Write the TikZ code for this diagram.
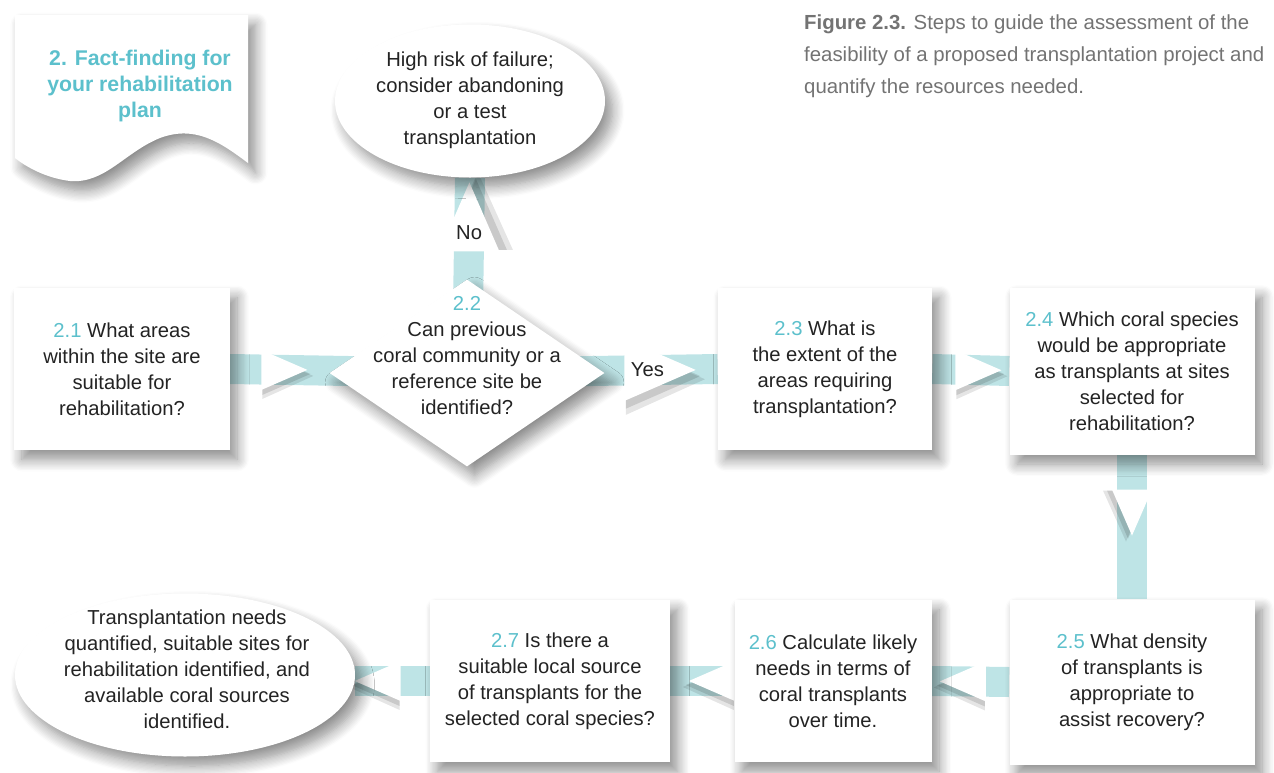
\documentclass[tikz,border=0pt]{standalone}
\usepackage{fontspec}
\setmainfont{Liberation Sans}
\usetikzlibrary{shapes.geometric,shadows.blur,positioning}
\definecolor{reefteal}{RGB}{92,192,204}
\definecolor{barteal}{RGB}{190,228,230}
\definecolor{inkgray}{RGB}{35,35,35}
\definecolor{capgray}{RGB}{115,115,115}
\newcommand{\stepno}[1]{\textcolor{reefteal}{#1}}
\pgfdeclarelayer{background}
\pgfsetlayers{background,main}
\tikzset{%
    softshadow/.style={%
        blur shadow={shadow xshift=1.5mm,shadow yshift=-1.9mm,shadow blur radius=2.4mm,
          shadow blur steps=10,shadow opacity=45}
    },
    flowtri/.pic={%
      \fill[black,opacity=.10] (29,6) -- (-22,29) -- (-22,-16) -- cycle;
      \fill[black,opacity=.12] (26,4) -- (-22,25) -- (-22,-18) -- cycle;
      \fill[white] (23,0) -- (-23,20) -- (-23,-20) -- cycle;}
}

\begin{document}
\begin{tikzpicture}[x=0.2mm,y=-0.2mm,
  every node/.style={font=\fontsize{11.5}{14.8}\selectfont,text=inkgray,align=center},
  step box/.style={fill=white,softshadow,minimum width=#1,minimum height=32.4mm,inner sep=2pt},
  end node/.style={ellipse,fill=white,softshadow,inner sep=0pt},
  decision node/.style={diamond,fill=white,softshadow,inner sep=0pt},
  flow bar/.style={draw=barteal,line width=6mm}]
  \useasboundingbox (0,0) rectangle (1274,773);

  % banner
  \fill[white,softshadow] (15,15) -- (248,15) -- (248,163)
    .. controls (220,142) and (195,125) .. (160,138)
    .. controls (125,152) and (105,184) .. (70,181)
    .. controls (45,178) and (25,166) .. (15,158) -- cycle;
  \node[font=\fontsize{12.1}{14.8}\selectfont\bfseries,text=reefteal] (title) at (140,86)
    {2. Fact-finding for\\your rehabilitation\\plan};

  \node[anchor=north west,align=left,font=\fontsize{11.6}{18.1}\selectfont,text=capgray] (caption) at (798,9)
    {\textbf{Figure 2.3.} Steps to guide the assessment of the\\
     feasibility of a proposed transplantation project and\\
     quantify the resources needed.};

  \node[end node,minimum width=54mm,minimum height=30.6mm] (fail) at (470,101) {};
  \node (failtext) at (470,100) {High risk of failure;\\consider abandoning\\or a test\\transplantation};

  \node[step box=43mm] (s21) at (122,369)
    {\stepno{2.1} What areas\\within the site are\\suitable for\\rehabilitation?};
  \node[decision node,minimum width=55mm,minimum height=37.4mm] (s22) at (467,373) {};
  \node (s22text) at (467,356)
    {\stepno{2.2}\\Can previous\\coral community or a\\reference site be\\identified?};
  \node[step box=42.8mm] (s23) at (825,369)
    {\stepno{2.3} What is\\the extent of the\\areas requiring\\transplantation?};
  \node[step box=49mm,minimum height=33.4mm] (s24) at (1132,371)
    {\stepno{2.4} Which coral species\\would be appropriate\\as transplants at sites\\selected for\\rehabilitation?};
  \node[step box=49mm,minimum height=33mm] (s25) at (1132,682)
    {\stepno{2.5} What density\\of transplants is\\appropriate to\\assist recovery?};
  \node[step box=39.4mm] (s26) at (833,681)
    {\stepno{2.6} Calculate likely\\needs in terms of\\coral transplants\\over time.};
  \node[step box=48mm] (s27) at (550,681)
    {\stepno{2.7} Is there a\\suitable local source\\of transplants for the\\selected coral species?};
  \node[end node,minimum width=68mm,minimum height=32.6mm] (done) at (185,675) {};
  \node (donetext) at (187,669)
    {Transplantation needs\\quantified, suitable sites for\\rehabilitation identified, and\\available coral sources\\identified.};

  \begin{pgfonlayer}{background}
    \draw[flow bar] (s21.east) -- (s22.center) pic[pos=.23]{flowtri};
    \draw[flow bar] (s22.center) -- (s23.west) pic[pos=.77,scale=1.55]{flowtri}
      node[pos=.72] (yes) {Yes};
    \draw[flow bar] (s22.center) -- (fail.south) pic[pos=.8,rotate=90,scale=1.5]{flowtri}
      node[pos=.72] (no) {No};
    \draw[flow bar] (s23.east) -- (s24.west) pic[pos=.6]{flowtri};
    \draw[flow bar] (s24.south) -- (s25.north) pic[pos=.4,rotate=-90]{flowtri};
    \draw[flow bar] (s25.west) -- (s26.east) pic[pos=.6,xscale=-1]{flowtri};
    \draw[flow bar] (s26.west) -- (s27.east) pic[pos=.35,xscale=-1]{flowtri};
    \draw[flow bar] (s27.west) -- (s27.west -| done.east) pic[pos=.7,xscale=-1]{flowtri};
  \end{pgfonlayer}
\end{tikzpicture}
\end{document}
